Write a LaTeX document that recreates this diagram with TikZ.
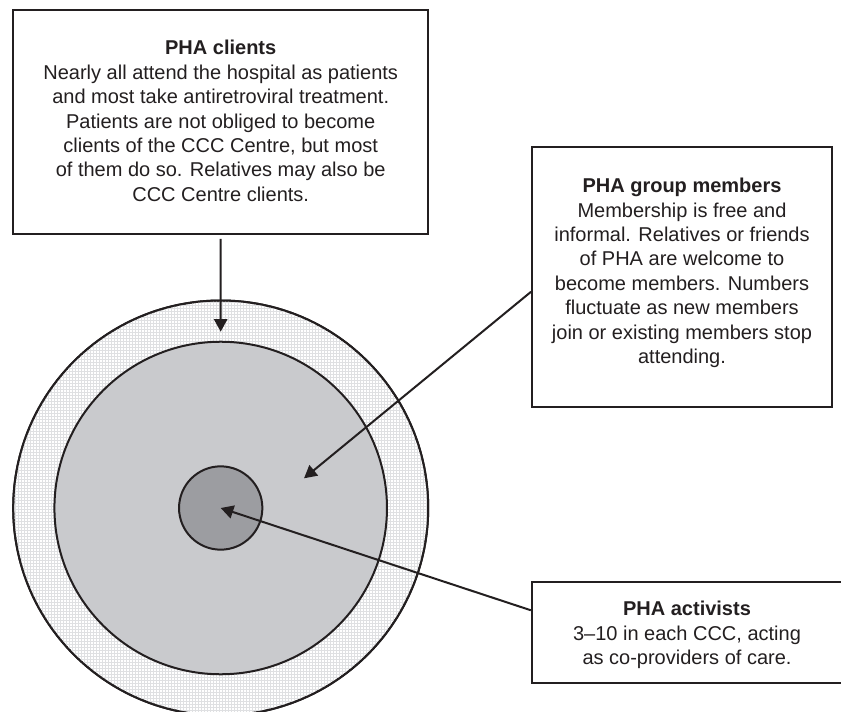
\documentclass[tikz,border=0pt]{standalone}
\usepackage{fontspec}
\setmainfont{Liberation Sans}
\usetikzlibrary{arrows.meta,calc}
\definecolor{ink}{HTML}{231F20}
\definecolor{gridline}{HTML}{DFE0E2}
\definecolor{ringmid}{HTML}{C9CACD}
\definecolor{core}{HTML}{9C9DA1}
\begin{document}
\begin{tikzpicture}[x=0.75pt,y=-0.75pt,
  disc/.style={circle,draw=ink,line width=1.5pt,inner sep=0pt},
  box/.style={rectangle,draw=ink,line width=1.5pt,fill=white,inner sep=0pt},
  txt/.style={align=center,text=ink,inner sep=0pt,font=\fontsize{15}{18.3}\selectfont},
  arr/.style={draw=ink,line width=1.5pt,-{Triangle[length=9.5pt,width=10pt]}}]
\useasboundingbox (0,0) rectangle (841,712);
\fill[white] (0,0) rectangle (841,712);
% outer ring with fine grid texture
\node[disc,fill=white,minimum size=311.25pt] (outer) at (220.7,508) {};
\begin{scope}
  \clip (220.7,508) circle[radius=207.5];
  \foreach \k in {0,...,142} {
    \draw[gridline,line width=0.75pt] ({0.5+3*\k},290) -- ({0.5+3*\k},712);
    \draw[gridline,line width=0.75pt] (0,{290.5+3*\k}) -- (430,{290.5+3*\k});
  }
\end{scope}
\draw[ink,line width=1.5pt] (220.7,508) circle[radius=207.5];
% middle and inner discs
\node[disc,fill=ringmid,minimum size=249.4pt] (mid) at (220.7,508) {};
\node[disc,fill=core,minimum size=62.5pt] (core) at (220.7,508) {};
% boxes
\node[box,minimum width=311.25pt,minimum height=168pt] (box1) at (220.5,122) {};
\node[box,minimum width=225pt,minimum height=195.2pt] (box2) at (682,276.85) {};
\node[box,minimum width=235.5pt,minimum height=75.5pt] (box3) at (688.85,632.35) {};
% texts
\node[txt] (t1) at (220.7,121) {\textbf{PHA clients}\\
Nearly all attend the hospital as patients\\
and most take antiretroviral treatment.\\
Patients are not obliged to become\\
clients of the CCC Centre, but most\\
of them do so. Relatives may also be\\
CCC Centre clients.};
\node[txt] (t2) at (682,273) {\textbf{PHA group members}\\
Membership is free and\\
informal. Relatives or friends\\
of PHA are welcome to\\
become members. Numbers\\
fluctuate as new members\\
join or existing members stop\\
attending.};
\node[txt] (t3) at (687,635) {\textbf{PHA activists}\\
3--10 in each CCC, acting\\
as co-providers of care.};
% arrows
\coordinate (tip1) at (220.7,331.7);
\coordinate (tip2) at (304,478.3);
\draw[arr] ([yshift=-3pt]box1.south) -- (tip1);
\draw[arr] ($(box2.north west)!0.557!(box2.south west)$) -- (tip2);
\draw[arr] ($(box3.north west)!0.285!(box3.south west)$) -- (core.center);
\end{tikzpicture}
\end{document}
